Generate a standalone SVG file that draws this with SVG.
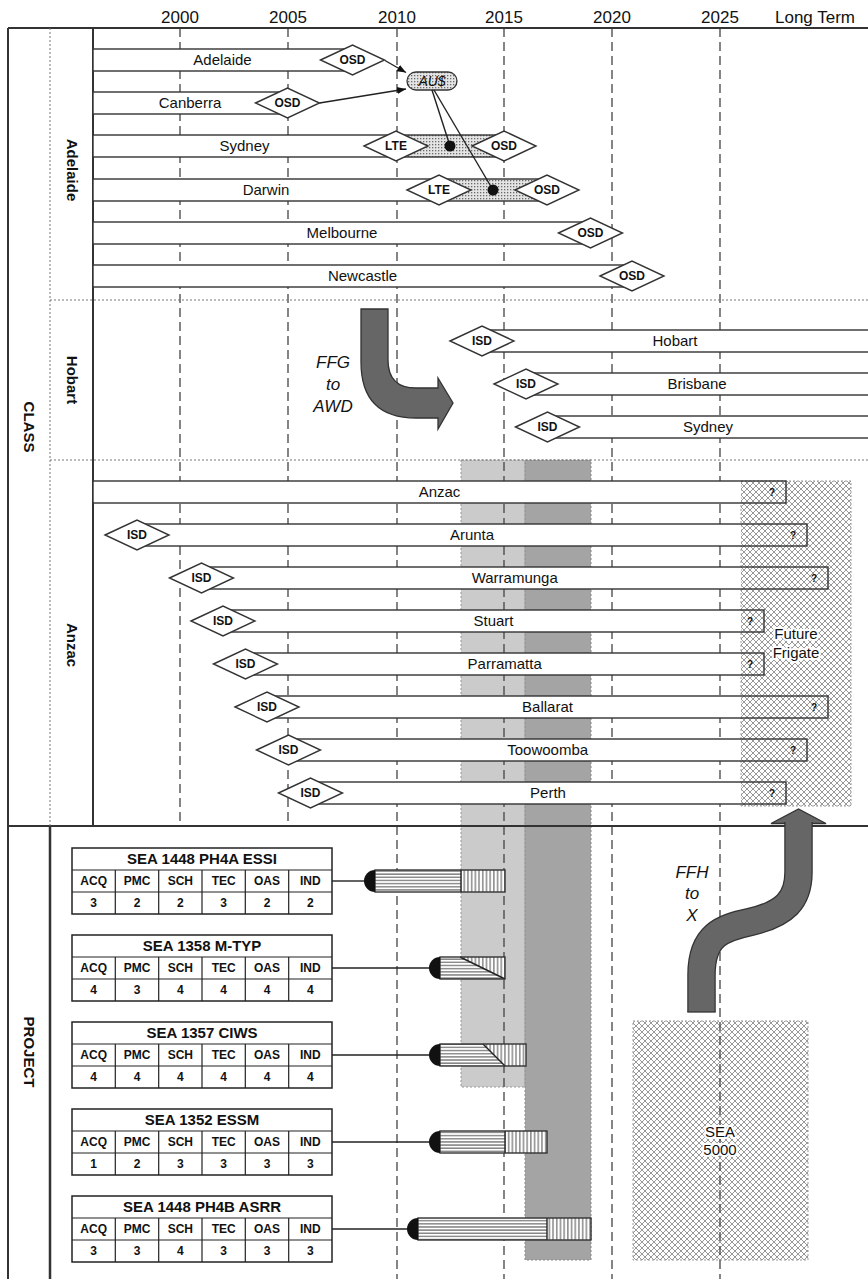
<svg xmlns="http://www.w3.org/2000/svg" width="868" height="1279" viewBox="0 0 868 1279">
<style>
.fr{stroke:#333;stroke-width:2;fill:none}
.dash{stroke:#444;stroke-width:1.3;stroke-dasharray:9 5;fill:none}
.dot{stroke:#777;stroke-width:1;stroke-dasharray:2 2;fill:none}
.bar{fill:#fff;stroke:#333;stroke-width:1.4}
.wf{fill:#fff;stroke:none}
.bo{fill:none;stroke:#333;stroke-width:1.4}
.dm{fill:#fff;stroke:#333;stroke-width:1.4}
.st{fill:url(#dots);stroke:#333;stroke-width:1.4}
.dt{font:bold 12px "Liberation Sans",Arial,sans-serif;text-anchor:middle;fill:#111}
.bl{font:15px "Liberation Sans",Arial,sans-serif;text-anchor:middle;fill:#111}
.yr{font:17px "Liberation Sans",Arial,sans-serif;text-anchor:middle;fill:#111}
.sec{font:bold 15px "Liberation Sans",Arial,sans-serif;text-anchor:middle;fill:#111}
.it{font:italic 17px "Liberation Sans",Arial,sans-serif;text-anchor:middle;fill:#111}
.q{font:bold 10px "Liberation Sans",Arial,sans-serif;text-anchor:middle;fill:#111}
.th{font:bold 15px "Liberation Sans",Arial,sans-serif;text-anchor:middle;fill:#111}
.tc{font:bold 12px "Liberation Sans",Arial,sans-serif;text-anchor:middle;fill:#111}
.tb{fill:#fff;stroke:#222;stroke-width:1.5}
.tl{stroke:#222;stroke-width:1.2;fill:none}
.hl{paint-order:stroke;stroke:#fff;stroke-width:4;stroke-linejoin:round}
.ln{stroke:#222;stroke-width:1.4;fill:none}
.cap{fill:#111}
.hh{fill:url(#hh)}
.vh{fill:url(#vh)}
.arw{fill:#666;stroke:#333;stroke-width:1.3}
</style>
<defs>
<pattern id="dots" patternUnits="userSpaceOnUse" width="3" height="3"><rect width="3" height="3" fill="#e4e4e4"/><rect width="1.3" height="1.3" fill="#6a6a6a"/></pattern>
<pattern id="xh" patternUnits="userSpaceOnUse" width="6" height="6"><rect width="6" height="6" fill="#fff"/><path d="M0,0L6,6M6,0L0,6" stroke="#8c8c8c" stroke-width="0.9"/></pattern>
<pattern id="hh" patternUnits="userSpaceOnUse" width="6" height="3.15"><rect width="6" height="3.15" fill="#fff"/><rect y="1.2" width="6" height="0.8" fill="#222"/></pattern>
<pattern id="vh" patternUnits="userSpaceOnUse" width="3.7" height="6"><rect width="3.7" height="6" fill="#fff"/><rect x="1.4" width="0.8" height="6" fill="#222"/></pattern>
<marker id="ah" viewBox="0 0 10 10" refX="10" refY="5" markerWidth="9" markerHeight="9" markerUnits="userSpaceOnUse" orient="auto"><path d="M0,1L10,5L0,9Z" fill="#111"/></marker>
</defs>
<rect width="868" height="1279" fill="#fff"/>

<g id="bands">
<rect x="461" y="460" width="64" height="627" fill="#cbcbcb" stroke="#999" stroke-width="1" stroke-dasharray="2 2"/>
<rect x="525" y="460" width="66" height="800" fill="#a4a4a4" stroke="#888" stroke-width="1" stroke-dasharray="2 2"/>
</g>
<g id="future-frigate-area">
<rect x="741" y="481" width="110" height="325" fill="url(#xh)" stroke="#999" stroke-width="1" stroke-dasharray="2 2"/>
</g>
<g id="sea5000">
<rect x="633" y="1021" width="175" height="239" fill="url(#xh)" stroke="#999" stroke-width="1" stroke-dasharray="2 2"/>
</g>

<g id="gridlines" class="dash">
<path d="M180,28V826M288,28V826M397,28V1279M504,28V1279M612,28V1279M720,28V1279"/>
</g>

<g id="frame">
<path class="fr" d="M8,28H868M8,28V1279M93,28V826M8,826H868"/>
<path d="M50,826V1279" stroke="#333" stroke-width="2.5"/>
<path class="dot" d="M50,28V826M50,300H868M50,460H868"/>
</g>

<g id="header">
<text class="yr" x="180" y="23">2000</text>
<text class="yr" x="288" y="23">2005</text>
<text class="yr" x="397" y="23">2010</text>
<text class="yr" x="504" y="23">2015</text>
<text class="yr" x="612" y="23">2020</text>
<text class="yr" x="720" y="23">2025</text>
<text class="yr" x="815" y="23">Long Term</text>
</g>

<g id="side-labels">
<text class="sec" transform="translate(29,427) rotate(90)" y="5">CLASS</text>
<text class="sec" transform="translate(29,1052) rotate(90)" y="5">PROJECT</text>
<text class="sec" transform="translate(71.5,170) rotate(90)" y="5">Adelaide</text>
<text class="sec" transform="translate(71.5,380) rotate(90)" y="5">Hobart</text>
<text class="sec" transform="translate(71.5,645) rotate(90)" y="5">Anzac</text>
</g>

<!-- Adelaide class -->
<g id="ship-adelaide">
<rect class="bar" x="93" y="49" width="259.5" height="22"/>
<polygon class="dm" points="320.5,60 352.5,45 384.5,60 352.5,75"/>
<text class="dt" x="352.5" y="64.3">OSD</text>
<text class="bl" x="222.5" y="65.3">Adelaide</text>
</g>
<g id="ship-canberra">
<rect class="bar" x="93" y="92" width="194.5" height="22"/>
<polygon class="dm" points="255.5,103 287.5,88 319.5,103 287.5,118"/>
<text class="dt" x="287.5" y="107.3">OSD</text>
<text class="bl" x="190" y="108.3">Canberra</text>
</g>
<g id="ship-sydney-ffg">
<rect class="bar" x="93" y="135" width="303" height="22"/>
<rect class="st" x="396" y="135" width="108" height="22"/>
<polygon class="dm" points="364,146 396,131 428,146 396,161"/>
<text class="dt" x="396" y="150.3">LTE</text>
<polygon class="dm" points="472,146 504,131 536,146 504,161"/>
<text class="dt" x="504" y="150.3">OSD</text>
<text class="bl" x="244.5" y="151.3">Sydney</text>
</g>
<g id="ship-darwin">
<rect class="bar" x="93" y="179" width="346" height="22"/>
<rect class="st" x="439" y="179" width="108" height="22"/>
<polygon class="dm" points="407,190 439,175 471,190 439,205"/>
<text class="dt" x="439" y="194.3">LTE</text>
<polygon class="dm" points="515,190 547,175 579,190 547,205"/>
<text class="dt" x="547" y="194.3">OSD</text>
<text class="bl" x="266" y="195.3">Darwin</text>
</g>
<g id="ship-melbourne">
<rect class="bar" x="93" y="222" width="497.5" height="22"/>
<polygon class="dm" points="558.5,233 590.5,218 622.5,233 590.5,248"/>
<text class="dt" x="590.5" y="237.3">OSD</text>
<text class="bl" x="342" y="238.3" fill="#333">Melbourne</text>
</g>
<g id="ship-newcastle">
<rect class="bar" x="93" y="265" width="539" height="22"/>
<polygon class="dm" points="600,276 632,261 664,276 632,291"/>
<text class="dt" x="632" y="280.3">OSD</text>
<text class="bl" x="362.5" y="281.3" fill="#333">Newcastle</text>
</g>
<g id="aus-node">
<rect x="407" y="72" width="50" height="18" rx="9" fill="url(#dots)" stroke="#333" stroke-width="1.3"/>
<text x="432" y="86" font-family="Liberation Sans, Arial, sans-serif" font-size="14" font-style="italic" text-anchor="middle" fill="#111">AU$</text>
</g>

<!-- Hobart class -->
<g id="ship-hobart">
<rect class="bar" x="482" y="330" width="400" height="22"/>
<polygon class="dm" points="450,341 482,326 514,341 482,356"/>
<text class="dt" x="482" y="345.3">ISD</text>
<text class="bl" x="675" y="346.3">Hobart</text>
</g>
<g id="ship-brisbane">
<rect class="bar" x="526" y="373" width="360" height="22"/>
<polygon class="dm" points="494,384 526,369 558,384 526,399"/>
<text class="dt" x="526" y="388.3">ISD</text>
<text class="bl" x="697" y="389.3">Brisbane</text>
</g>
<g id="ship-sydney-awd">
<rect class="bar" x="547.5" y="416" width="340" height="22"/>
<polygon class="dm" points="515.5,427 547.5,412 579.5,427 547.5,442"/>
<text class="dt" x="547.5" y="431.3">ISD</text>
<text class="bl" x="708" y="432.3">Sydney</text>
</g>

<!-- Anzac class -->
<g id="ship-anzac">
<rect class="wf" x="93" y="481" width="648" height="22"/>
<rect class="bo" x="93" y="481" width="693" height="22"/>
<text class="q" x="772" y="495.5">?</text>
<text class="bl" x="439.5" y="497.3">Anzac</text>
</g>
<g id="ship-arunta">
<rect class="wf" x="137" y="524" width="604" height="22"/>
<rect class="bo" x="137" y="524" width="670" height="22"/>
<polygon class="dm" points="105,535 137,520 169,535 137,550"/>
<text class="dt" x="137" y="539.3">ISD</text>
<text class="q" x="793" y="538.5">?</text>
<text class="bl" x="472" y="540.3">Arunta</text>
</g>
<g id="ship-warramunga">
<rect class="wf" x="201.5" y="567" width="539.5" height="22"/>
<rect class="bo" x="201.5" y="567" width="626.5" height="22"/>
<polygon class="dm" points="169.5,578 201.5,563 233.5,578 201.5,593"/>
<text class="dt" x="201.5" y="582.3">ISD</text>
<text class="q" x="814" y="581.5">?</text>
<text class="bl" x="514.7" y="583.3">Warramunga</text>
</g>
<g id="ship-stuart">
<rect class="wf" x="223" y="610" width="518" height="22"/>
<rect class="bo" x="223" y="610" width="541" height="22"/>
<polygon class="dm" points="191,621 223,606 255,621 223,636"/>
<text class="dt" x="223" y="625.3">ISD</text>
<text class="q" x="750" y="624.5">?</text>
<text class="bl" x="493.5" y="626.3">Stuart</text>
</g>
<g id="ship-parramatta">
<rect class="wf" x="245.5" y="653" width="495.5" height="22"/>
<rect class="bo" x="245.5" y="653" width="518.5" height="22"/>
<polygon class="dm" points="213.5,664 245.5,649 277.5,664 245.5,679"/>
<text class="dt" x="245.5" y="668.3">ISD</text>
<text class="q" x="750" y="667.5">?</text>
<text class="bl" x="504.7" y="669.3">Parramatta</text>
</g>
<g id="ship-ballarat">
<rect class="wf" x="267" y="696" width="474" height="22"/>
<rect class="bo" x="267" y="696" width="561" height="22"/>
<polygon class="dm" points="235,707 267,692 299,707 267,722"/>
<text class="dt" x="267" y="711.3">ISD</text>
<text class="q" x="814" y="710.5">?</text>
<text class="bl" x="547.5" y="712.3">Ballarat</text>
</g>
<g id="ship-toowoomba">
<rect class="wf" x="288.5" y="739" width="452.5" height="22"/>
<rect class="bo" x="288.5" y="739" width="518.5" height="22"/>
<polygon class="dm" points="256.5,750 288.5,735 320.5,750 288.5,765"/>
<text class="dt" x="288.5" y="754.3">ISD</text>
<text class="q" x="793" y="753.5">?</text>
<text class="bl" x="547.7" y="755.3">Toowoomba</text>
</g>
<g id="ship-perth">
<rect class="wf" x="310.5" y="782" width="430.5" height="22"/>
<rect class="bo" x="310.5" y="782" width="475.5" height="22"/>
<polygon class="dm" points="278.5,793 310.5,778 342.5,793 310.5,808"/>
<text class="dt" x="310.5" y="797.3">ISD</text>
<text class="q" x="772" y="796.5">?</text>
<text class="bl" x="548" y="798.3">Perth</text>
</g>
<g id="future-frigate-label">
<text class="bl hl" x="796" y="639">Future</text>
<text class="bl hl" x="796" y="658">Frigate</text>
</g>

<!-- project bars -->
<g id="bar-essi">
<rect class="hh" x="375" y="870" width="86" height="22"/>
<rect class="vh" x="461" y="870" width="44" height="22"/>
<rect class="bo" x="375" y="870" width="130" height="22"/>
<path class="ln" d="M461,870V892"/>
<path class="cap" d="M375,870A11,11 0 0 0 375,892Z"/>
</g>
<g id="bar-mtyp">
<rect class="hh" x="440" y="957" width="65" height="22"/>
<polygon class="vh" points="460,957 505,957 505,979"/>
<path class="ln" d="M460,957L505,979"/>
<rect class="bo" x="440" y="957" width="65" height="22"/>
<path class="cap" d="M440,957A11,11 0 0 0 440,979Z"/>
</g>
<g id="bar-ciws">
<rect class="hh" x="440" y="1044" width="86" height="22"/>
<polygon class="vh" points="483,1044 526,1044 526,1066 505,1066"/>
<path class="ln" d="M483,1044L505,1066"/>
<rect class="bo" x="440" y="1044" width="86" height="22"/>
<path class="cap" d="M440,1044A11,11 0 0 0 440,1066Z"/>
</g>
<g id="bar-essm">
<rect class="hh" x="440" y="1131" width="65" height="22"/>
<rect class="vh" x="505" y="1131" width="42" height="22"/>
<path class="ln" d="M505,1131V1153"/>
<rect class="bo" x="440" y="1131" width="107" height="22"/>
<path class="cap" d="M440,1131A11,11 0 0 0 440,1153Z"/>
</g>
<g id="bar-asrr">
<rect class="hh" x="418" y="1218" width="129" height="22"/>
<rect class="vh" x="547" y="1218" width="44" height="22"/>
<path class="ln" d="M547,1218V1240"/>
<rect class="bo" x="418" y="1218" width="173" height="22"/>
<path class="cap" d="M418,1218A11,11 0 0 0 418,1240Z"/>
</g>

<g id="connectors">
<path class="ln" d="M385,60.5L406,72.5" marker-end="url(#ah)"/>
<path class="ln" d="M319.5,103L406,89" marker-end="url(#ah)"/>
<path class="ln" d="M432,90L450,146"/>
<path class="ln" d="M434,90L493,190"/>
<path class="ln" d="M332,881H364"/>
<path class="ln" d="M332,968H429"/>
<path class="ln" d="M332,1055H429"/>
<path class="ln" d="M332,1142H429"/>
<path class="ln" d="M332,1229H407"/>
</g>
<g id="dots-markers">
<circle cx="450" cy="146" r="5.5" fill="#111"/>
<circle cx="493" cy="190" r="5.5" fill="#111"/>
</g>

<g id="arrow-ffg-awd">
<path class="arw" d="M361,309H388V360Q388,388 416,388H438V378L453,403L438,429V418H416Q361,418 361,362Z"/>
<text class="it" x="333" y="368">FFG</text>
<text class="it" x="333" y="390">to</text>
<text class="it" x="333" y="412">AWD</text>
</g>
<g id="arrow-ffh-x">
<path class="arw" d="M771,823.5L798.5,809L826,823.5Z"/>
<path d="M701.5,1012V975C701.5,935 722,928 750,922C785,914 798.5,900 798.5,872V822" stroke="#333" stroke-width="28.5" fill="none"/>
<path d="M701.5,1012V975C701.5,935 722,928 750,922C785,914 798.5,900 798.5,872V822" stroke="#666" stroke-width="26" fill="none"/>
<path d="M687.3,1012H715.7" stroke="#333" stroke-width="1.3"/>
<text class="it" x="692" y="878">FFH</text>
<text class="it" x="692" y="899">to</text>
<text class="it" x="692" y="921">X</text>
</g>
<g id="sea5000-label">
<text class="bl hl" x="720" y="1137">SEA</text>
<text class="bl hl" x="720" y="1155">5000</text>
</g>

<!-- project tables -->
<g id="tbl-essi" transform="translate(72,848)">
<rect class="tb" width="260" height="66"/>
<path class="tl" d="M0,22H260M0,44H260M43.3,22V66M86.7,22V66M130,22V66M173.3,22V66M216.7,22V66"/>
<text class="th" x="130" y="16.4">SEA 1448 PH4A ESSI</text>
<text class="tc" x="21.7" y="37.3">ACQ</text><text class="tc" x="65" y="37.3">PMC</text><text class="tc" x="108.3" y="37.3">SCH</text><text class="tc" x="151.7" y="37.3">TEC</text><text class="tc" x="195" y="37.3">OAS</text><text class="tc" x="238.3" y="37.3">IND</text>
<text class="tc" x="21.7" y="59.3">3</text><text class="tc" x="65" y="59.3">2</text><text class="tc" x="108.3" y="59.3">2</text><text class="tc" x="151.7" y="59.3">3</text><text class="tc" x="195" y="59.3">2</text><text class="tc" x="238.3" y="59.3">2</text>
</g>
<g id="tbl-mtyp" transform="translate(72,935)">
<rect class="tb" width="260" height="66"/>
<path class="tl" d="M0,22H260M0,44H260M43.3,22V66M86.7,22V66M130,22V66M173.3,22V66M216.7,22V66"/>
<text class="th" x="130" y="16.4">SEA 1358 M-TYP</text>
<text class="tc" x="21.7" y="37.3">ACQ</text><text class="tc" x="65" y="37.3">PMC</text><text class="tc" x="108.3" y="37.3">SCH</text><text class="tc" x="151.7" y="37.3">TEC</text><text class="tc" x="195" y="37.3">OAS</text><text class="tc" x="238.3" y="37.3">IND</text>
<text class="tc" x="21.7" y="59.3">4</text><text class="tc" x="65" y="59.3">3</text><text class="tc" x="108.3" y="59.3">4</text><text class="tc" x="151.7" y="59.3">4</text><text class="tc" x="195" y="59.3">4</text><text class="tc" x="238.3" y="59.3">4</text>
</g>
<g id="tbl-ciws" transform="translate(72,1022)">
<rect class="tb" width="260" height="66"/>
<path class="tl" d="M0,22H260M0,44H260M43.3,22V66M86.7,22V66M130,22V66M173.3,22V66M216.7,22V66"/>
<text class="th" x="130" y="16.4">SEA 1357 CIWS</text>
<text class="tc" x="21.7" y="37.3">ACQ</text><text class="tc" x="65" y="37.3">PMC</text><text class="tc" x="108.3" y="37.3">SCH</text><text class="tc" x="151.7" y="37.3">TEC</text><text class="tc" x="195" y="37.3">OAS</text><text class="tc" x="238.3" y="37.3">IND</text>
<text class="tc" x="21.7" y="59.3">4</text><text class="tc" x="65" y="59.3">4</text><text class="tc" x="108.3" y="59.3">4</text><text class="tc" x="151.7" y="59.3">4</text><text class="tc" x="195" y="59.3">4</text><text class="tc" x="238.3" y="59.3">4</text>
</g>
<g id="tbl-essm" transform="translate(72,1109)">
<rect class="tb" width="260" height="66"/>
<path class="tl" d="M0,22H260M0,44H260M43.3,22V66M86.7,22V66M130,22V66M173.3,22V66M216.7,22V66"/>
<text class="th" x="130" y="16.4">SEA 1352 ESSM</text>
<text class="tc" x="21.7" y="37.3">ACQ</text><text class="tc" x="65" y="37.3">PMC</text><text class="tc" x="108.3" y="37.3">SCH</text><text class="tc" x="151.7" y="37.3">TEC</text><text class="tc" x="195" y="37.3">OAS</text><text class="tc" x="238.3" y="37.3">IND</text>
<text class="tc" x="21.7" y="59.3">1</text><text class="tc" x="65" y="59.3">2</text><text class="tc" x="108.3" y="59.3">3</text><text class="tc" x="151.7" y="59.3">3</text><text class="tc" x="195" y="59.3">3</text><text class="tc" x="238.3" y="59.3">3</text>
</g>
<g id="tbl-asrr" transform="translate(72,1196)">
<rect class="tb" width="260" height="66"/>
<path class="tl" d="M0,22H260M0,44H260M43.3,22V66M86.7,22V66M130,22V66M173.3,22V66M216.7,22V66"/>
<text class="th" x="130" y="16.4">SEA 1448 PH4B ASRR</text>
<text class="tc" x="21.7" y="37.3">ACQ</text><text class="tc" x="65" y="37.3">PMC</text><text class="tc" x="108.3" y="37.3">SCH</text><text class="tc" x="151.7" y="37.3">TEC</text><text class="tc" x="195" y="37.3">OAS</text><text class="tc" x="238.3" y="37.3">IND</text>
<text class="tc" x="21.7" y="59.3">3</text><text class="tc" x="65" y="59.3">3</text><text class="tc" x="108.3" y="59.3">4</text><text class="tc" x="151.7" y="59.3">3</text><text class="tc" x="195" y="59.3">3</text><text class="tc" x="238.3" y="59.3">3</text>
</g>
</svg>
